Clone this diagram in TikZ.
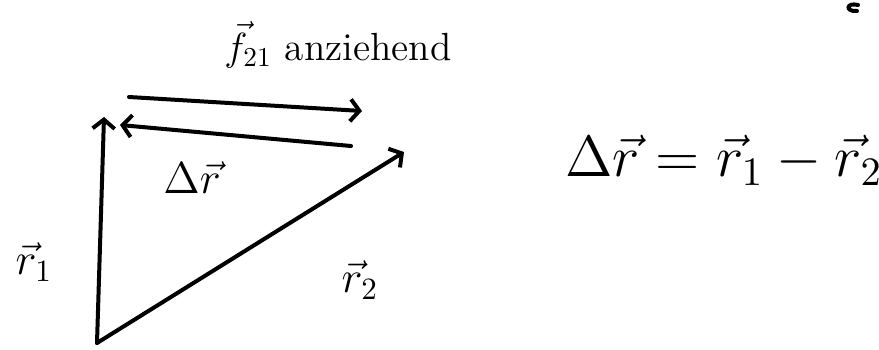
\documentclass[tikz,border=0pt]{standalone}
\usetikzlibrary{arrows.meta}
\tikzstyle{vec}=[line width=4pt, line cap=round, line join=round, -{Straight Barb[length=9pt, width=22pt, line width=4pt]}]
\tikzstyle{hand}=[font=\Large, scale=3.1, inner sep=0pt]

\begin{document}
\begin{tikzpicture}[x=1pt, y=-1pt]
				\useasboundingbox (0,0) rectangle (879,350);

				% Vertices of the triangle
				\coordinate (O) at (97,343);
				\coordinate (P1) at (104,117);
				\coordinate (P2) at (404,152);

				% Position vectors
				\draw[vec] (O) -- (P1);
				\draw[vec] (O) -- (P2);

				% Force and difference vector
				\coordinate (fa) at (129,97);
				\coordinate (fb) at (362,111);
				\coordinate (ra) at (351,146);
				\coordinate (rb) at (120,125);
				\draw[vec] (fa) -- (fb);
				\draw[vec] (ra) -- (rb);

				\node[hand, scale=0.88] (f21) at (338,45) {$\vec f_{21}$ anziehend};
				\node[hand] (dr) at (192,178) {$\Delta\vec r$};
				\node[hand] (r1) at (34,262) {$\vec r_1$};
				\node[hand] (r2) at (360,280) {$\vec r_2$};

				\node[hand, scale=1.3] (eq) at (724,160) {$\Delta\vec r = \vec r_1 - \vec r_2$};

				% cut-off stroke at the top border
				\draw[line width=4pt, line cap=round] (858,5) .. controls (846,2) and (845,12) .. (857,11);
			\end{tikzpicture}
\end{document}
